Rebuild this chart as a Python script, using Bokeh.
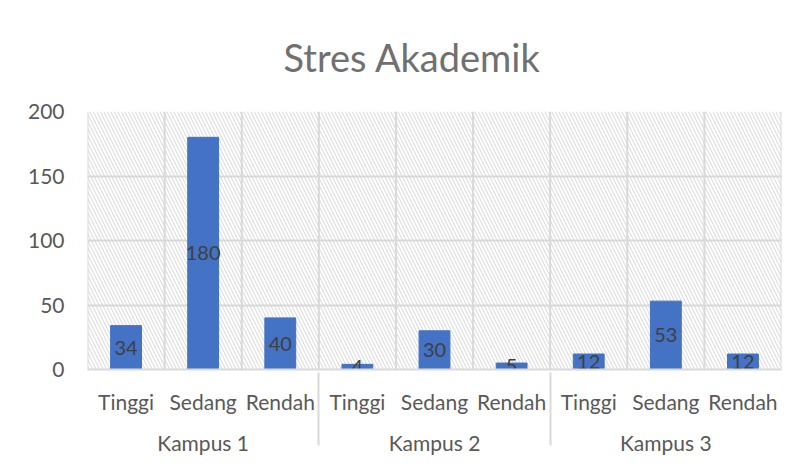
from bokeh.plotting import figure
from bokeh.models import FactorRange, Span, BoxAnnotation, FixedTicker, ColumnDataSource
from bokeh.core.properties import value
from bokeh.embed import file_html
from bokeh.resources import INLINE

campuses = ["Kampus 1", "Kampus 2", "Kampus 3"]
levels = ["Tinggi", "Sedang", "Rendah"]
values_k1 = [34, 180, 40]
values_k2 = [4, 30, 5]
values_k3 = [12, 53, 12]
y_ticks = [0, 50, 100, 150, 200]

factors = [(c, l) for c in campuses for l in levels]
vals = values_k1 + values_k2 + values_k3
src = ColumnDataSource(dict(x=factors, top=vals, mid=[v / 2 for v in vals],
                            lab=[str(v) for v in vals]))

FONT = "Lato"
GRAY = "#d9d9d9"
TXT = "#595959"

xr = FactorRange(*factors, factor_padding=0, group_padding=0, subgroup_padding=0,
                 range_padding=0)
p = figure(x_range=xr, y_range=(0, 200), width=790, height=466,
           output_backend="svg", toolbar_location=None,
           min_border_left=87, min_border_right=9, min_border_top=111,
           min_border_bottom=97, title="Stres Akademik")
p.outline_line_color = None
p.background_fill_color = "white"

# title
p.title.align = "left"
p.title.vertical_align = "top"
p.title.text_font = FONT
p.title.text_font_size = "38px"
p.title.text_font_style = "normal"
p.title.text_color = "#707070"
p.title.standoff = 60
p.title.offset = 196

# hatch background
p.add_layout(BoxAnnotation(fill_color=None, line_color=None,
                           hatch_pattern="\\", hatch_color="#d6d6d6",
                           hatch_scale=7, hatch_weight=1, level="underlay"))

# grids
p.xgrid.visible = False
p.ygrid.grid_line_color = GRAY
p.ygrid.grid_line_width = 2
p.ygrid.ticker = FixedTicker(ticks=y_ticks)
for k in range(len(factors) + 1):
    p.add_layout(Span(location=k, dimension="height", line_color=GRAY,
                      line_width=2, level="underlay"))

# bars
p.vbar(x="x", top="top", width=0.4, source=src, color="#4472C4")
p.text(x="x", y="mid", text="lab", source=src, text_align="center",
       text_baseline="middle", text_font=value(FONT), text_font_size="20px",
       text_color="#404040")

# y axis
p.yaxis.ticker = FixedTicker(ticks=y_ticks)
p.yaxis.axis_line_color = None
p.yaxis.major_tick_line_color = None
p.yaxis.minor_tick_line_color = None
p.yaxis.major_label_text_font = FONT
p.yaxis.major_label_text_font_size = "21px"
p.yaxis.major_label_text_color = TXT
p.yaxis.major_label_standoff = 17

# x axis
xa = p.xaxis[0]
xa.axis_line_color = GRAY
xa.axis_line_width = 2
xa.major_tick_line_color = None
xa.minor_tick_line_color = None
xa.major_label_text_font = FONT
xa.major_label_text_font_size = "21px"
xa.major_label_text_color = TXT
xa.major_label_standoff = 13
xa.major_label_orientation = "horizontal"
xa.group_text_font = FONT
xa.group_text_font_size = "21px"
xa.group_text_font_style = "normal"
xa.group_text_color = TXT
xa.separator_line_color = GRAY
xa.separator_line_width = 2

open("out.html", "w").write(file_html(p, INLINE))
